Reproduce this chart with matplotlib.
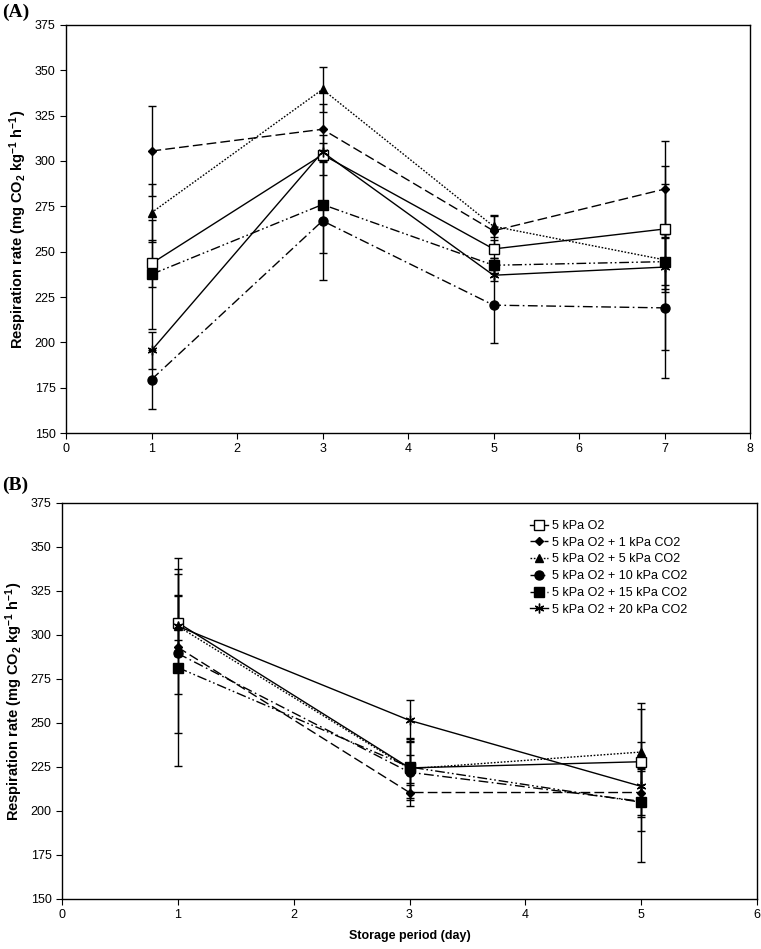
import matplotlib
matplotlib.use("Agg")
import matplotlib.pyplot as plt
import numpy as np

plt.rcParams['font.family'] = ['Liberation Sans', 'DejaVu Sans']
plt.rcParams['mathtext.default'] = 'regular'

# series names
labels = ["5 kPa O2", "5 kPa O2 + 1 kPa CO2", "5 kPa O2 + 5 kPa CO2",
          "5 kPa O2 + 10 kPa CO2", "5 kPa O2 + 15 kPa CO2", "5 kPa O2 + 20 kPa CO2"]

# panel A
days_a = [1, 3, 5, 7]
a_o2 = [243.5, 303.5, 251.5, 262.5]
a_co2_1 = [305.5, 317.5, 261.5, 284.5]
a_co2_5 = [271.5, 339.5, 264.0, 245.5]
a_co2_10 = [179.5, 267.0, 220.5, 219.0]
a_co2_15 = [237.5, 276.0, 242.5, 244.5]
a_co2_20 = [195.5, 305.0, 237.0, 241.5]
a_err_o2 = [13, 11, 5, 35]
a_err_co2_1 = [25, 14, 8, 26.5]
a_err_co2_5 = [16, 12.5, 6, 14]
a_err_co2_10 = [16.5, 32.5, 21, 38.5]
a_err_co2_15 = [30, 27, 4, 15]
a_err_co2_20 = [10, 5, 3, 46]

# panel B
days_b = [1, 3, 5]
b_o2 = [307.0, 224.5, 228.0]
b_co2_1 = [293.0, 210.5, 210.5]
b_co2_5 = [305.0, 224.0, 233.5]
b_co2_10 = [289.5, 222.0, 205.5]
b_co2_15 = [281.5, 225.0, 205.0]
b_co2_20 = [305.0, 251.5, 214.0]
b_err_o2 = [16, 17, 30]
b_err_co2_1 = [4, 4, 14]
b_err_co2_5 = [38.5, 8, 28]
b_err_co2_10 = [45, 19, 17]
b_err_co2_15 = [56, 14, 34]
b_err_co2_20 = [17, 11.5, 10]

styles = [
    dict(linestyle='-', marker='s', mfc='white', ms=7),
    dict(linestyle=(0, (7, 3)), marker='D', mfc='black', ms=4.5),
    dict(linestyle=(0, (1.2, 1.2)), marker='^', mfc='black', ms=6),
    dict(linestyle=(0, (7, 2.5, 1.2, 2.5)), marker='o', mfc='black', ms=6.5),
    dict(linestyle=(0, (7, 2, 1.2, 2, 1.2, 2)), marker='s', mfc='black', ms=7),
    dict(linestyle='-', marker=(6, 2, 0), mfc='black', ms=7),
]


def draw(ax, x, ys, errs, xmax):
    for y, e, st, lab in zip(ys, errs, styles, labels):
        ax.errorbar(x, y, yerr=e, color='black', ecolor='black', elinewidth=1,
                    capsize=3, capthick=1, lw=1, mec='black', label=lab, **st)
    ax.set_xlim(0, xmax)
    ax.set_ylim(150, 375)
    ax.set_yticks(np.arange(150, 376, 25))
    ax.set_xticks(np.arange(0, xmax + 1, 1))
    ax.tick_params(direction='out', length=4, labelsize=9, top=False, right=False)
    for s in ax.spines.values():
        s.set_linewidth(1)
    ax.set_ylabel(r'Respiration rate (mg CO$_2$ kg$^{-1}$ h$^{-1}$)',
                  fontsize=10.5, fontweight='bold', labelpad=4)


fig = plt.figure(figsize=(7.61, 9.49), dpi=100)
ax1 = fig.add_axes([66 / 761, 1 - 433 / 949, 684 / 761, 408 / 949])
ax2 = fig.add_axes([62 / 761, 1 - 899 / 949, 695 / 761, 396 / 949])

draw(ax1, days_a, [a_o2, a_co2_1, a_co2_5, a_co2_10, a_co2_15, a_co2_20],
     [a_err_o2, a_err_co2_1, a_err_co2_5, a_err_co2_10, a_err_co2_15, a_err_co2_20], 8)
draw(ax2, days_b, [b_o2, b_co2_1, b_co2_5, b_co2_10, b_co2_15, b_co2_20],
     [b_err_o2, b_err_co2_1, b_err_co2_5, b_err_co2_10, b_err_co2_15, b_err_co2_20], 6)

ax2.set_xlabel('Storage period (day)', fontsize=9, fontweight='bold', labelpad=6)

handles, labs = ax2.get_legend_handles_labels()
handles = [h[0] for h in handles]
fig.legend(handles, labs, loc='upper left', bbox_to_anchor=(530 / 761, 1 - 520 / 949),
           frameon=False, fontsize=9, handlelength=1.4, handletextpad=0.35,
           labelspacing=0.38, borderpad=0, borderaxespad=0)

fig.text(2 / 761, 1 - 12 / 949, '(A)', family='Liberation Serif', fontweight='bold',
         fontsize=14, va='center', ha='left')
fig.text(2 / 761, 1 - 485 / 949, '(B)', family='Liberation Serif', fontweight='bold',
         fontsize=14, va='center', ha='left')

fig.savefig('out.png', dpi=100)
